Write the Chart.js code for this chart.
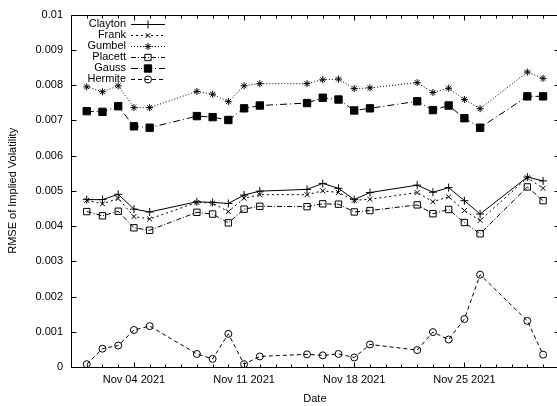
<!DOCTYPE html>
<html><head><meta charset="utf-8">
<script src="https://cdn.jsdelivr.net/npm/chart.js@4/dist/chart.umd.min.js"></script>
<style>
html,body{margin:0;padding:0;background:#fff;overflow:hidden;width:557px;height:406px}
#wrap{width:557px;height:406px;overflow:hidden;position:relative}
canvas{display:block}
</style></head><body>
<div id="wrap"><canvas id="c" width="565" height="406" style="width:565px;height:406px"></canvas></div>
<script>
// Day of month (November 2021); x axis spans Oct 31 (0) to Dec 1 (31)
const days = [1,2,3,4,5,8,9,10,11,12,15,16,17,18,19,22,23,24,25,26,29,30];
const seriesNames = ['Clayton','Frank','Gumbel','Placett','Gauss','Hermite'];
const clayton = [0.00475,0.00475,0.00490,0.00448,0.00440,0.00469,0.00467,0.00464,0.00488,0.00499,0.00504,0.00521,0.00507,0.00475,0.00495,0.00516,0.00496,0.00509,0.00472,0.00434,0.00539,0.00528];
const frank   = [0.00473,0.00463,0.00478,0.00427,0.00420,0.00467,0.00465,0.00441,0.00479,0.00489,0.00489,0.00500,0.00495,0.00473,0.00476,0.00495,0.00469,0.00483,0.00444,0.00416,0.00537,0.00507];
const gumbel  = [0.00795,0.00781,0.00798,0.00736,0.00736,0.00782,0.00774,0.00753,0.00798,0.00804,0.00804,0.00815,0.00817,0.00790,0.00792,0.00807,0.00779,0.00791,0.00759,0.00733,0.00837,0.00819];
const placett = [0.00441,0.00429,0.00442,0.00395,0.00388,0.00439,0.00434,0.00409,0.00448,0.00456,0.00455,0.00463,0.00462,0.00440,0.00444,0.00460,0.00435,0.00447,0.00410,0.00378,0.00511,0.00472];
const gauss   = [0.00726,0.00724,0.00740,0.00683,0.00679,0.00712,0.00709,0.00701,0.00734,0.00742,0.00749,0.00764,0.00759,0.00728,0.00734,0.00754,0.00729,0.00742,0.00706,0.00679,0.00768,0.00768];
const hermite = [0.00008,0.00052,0.00061,0.00105,0.00116,0.00037,0.00023,0.00094,0.00008,0.00030,0.00036,0.00033,0.00037,0.00027,0.00064,0.00048,0.00099,0.00078,0.00136,0.00262,0.00131,0.00035];
const tickDays = [4,11,18,25];
const tickLabels = ['Nov 04 2021','Nov 11 2021','Nov 18 2021','Nov 25 2021'];
const xTitle = 'Date';
const yTitle = 'RMSE of Implied Volatility';

const FONT = 'Liberation Sans, Arial, Helvetica, sans-serif';
const pts = arr => arr.map((v,i)=>({x:days[i], y:v}));
const styles = [
  {dash:[], ps:'cross', r:4, fill:'#000'},
  {dash:[2,3], ps:'crossRot', r:3.5, fill:'#000'},
  {dash:[1,2], ps:'star', r:3.5, fill:'#000'},
  {dash:[5,2,1,2], ps:'rect', r:4.5, fill:'rgba(0,0,0,0)'},
  {dash:[7,3,1,3], ps:'rect', r:5.2, fill:'#000'},
  {dash:[4,3], ps:'circle', r:3.5, fill:'rgba(0,0,0,0)'}
];
const seriesData = [clayton, frank, gumbel, placett, gauss, hermite];
const datasets = seriesNames.map((n,i)=>({
  label:n, data:pts(seriesData[i]),
  borderColor:'#000', borderWidth:1, borderDash:styles[i].dash,
  pointStyle:styles[i].ps, pointRadius:styles[i].r, pointHoverRadius:styles[i].r,
  pointBorderColor:'#000', pointBackgroundColor:styles[i].fill, pointBorderWidth:1,
  tension:0, fill:false
}));

const framePlugin = {
  id:'frame',
  afterDatasetsDraw(chart){
    const {ctx, chartArea:a, scales:{x,y}} = chart;
    ctx.save();
    ctx.strokeStyle='#000'; ctx.lineWidth=1; ctx.setLineDash([]);
    const L=Math.round(a.left)+0.5, R=Math.round(a.right)+0.5, T=Math.round(a.top)+0.5, B=Math.round(a.bottom)+0.5;
    ctx.beginPath();
    ctx.rect(L,T,R-L,B-T);
    x.ticks.forEach(t=>{
      if (t.value<=0 || t.value>=31) return;
      const px=Math.round(x.getPixelForValue(t.value))+0.5;
      const len = tickDays.includes(t.value)?5:3;
      ctx.moveTo(px,B); ctx.lineTo(px,B-len);
      ctx.moveTo(px,T); ctx.lineTo(px,T+len);
    });
    y.ticks.forEach(t=>{
      const py=Math.round(y.getPixelForValue(t.value))+0.5;
      ctx.moveTo(L,py); ctx.lineTo(L+5,py);
      ctx.moveTo(R,py); ctx.lineTo(R-5,py);
    });
    ctx.stroke();
    // legend
    ctx.font = '11px '+FONT;
    ctx.textAlign='right'; ctx.textBaseline='middle'; ctx.fillStyle='#000';
    chart.data.datasets.forEach((ds,i)=>{
      const yy = 23.5 + 11*i;
      ctx.fillText(ds.label, 126, yy);
      ctx.beginPath();
      ctx.setLineDash(ds.borderDash||[]);
      ctx.moveTo(131, Math.round(yy)+0.5); ctx.lineTo(165, Math.round(yy)+0.5);
      ctx.stroke();
      ctx.setLineDash([]);
      ctx.fillStyle = ds.pointBackgroundColor; ctx.strokeStyle='#000';
      if (Chart.helpers && Chart.helpers.drawPoint) {
        Chart.helpers.drawPoint(ctx, {pointStyle:ds.pointStyle, radius:ds.pointRadius, borderWidth:1, rotation:0}, 148, Math.round(yy)+0.5);
      }
      ctx.fillStyle='#000';
    });
    ctx.restore();
  }
};

new Chart(document.getElementById('c'), {
  type:'line',
  data:{datasets},
  options:{
    responsive:false, animation:false,
    layout:{padding:{left:0, top:11, right:6, bottom:0}},
    plugins:{legend:{display:false}, tooltip:{enabled:false}},
    scales:{
      x:{type:'linear', min:0, max:31,
        grid:{display:false, drawTicks:false}, border:{display:false},
        ticks:{stepSize:1, autoSkip:false, maxRotation:0, padding:6, color:'#000', font:{family:FONT, size:11},
          callback:v=>{const k=tickDays.indexOf(v); return k>=0?tickLabels[k]:'';}},
        title:{display:true, text:xTitle, color:'#000', font:{family:FONT, size:11}, padding:{top:1,bottom:0}},
        afterFit:s=>{s.height=39;}
      },
      y:{type:'linear', min:0, max:0.01,
        grid:{display:false, drawTicks:false}, border:{display:false},
        ticks:{stepSize:0.001, padding:8, color:'#000', font:{family:FONT, size:11},
          callback:v=>String(Number(v.toFixed(4)))},
        title:{display:true, text:yTitle, color:'#000', font:{family:FONT, size:11}, padding:{top:6,bottom:4}},
        afterFit:s=>{s.width=71;}
      }
    }
  },
  plugins:[framePlugin]
});
</script>
</body></html>
